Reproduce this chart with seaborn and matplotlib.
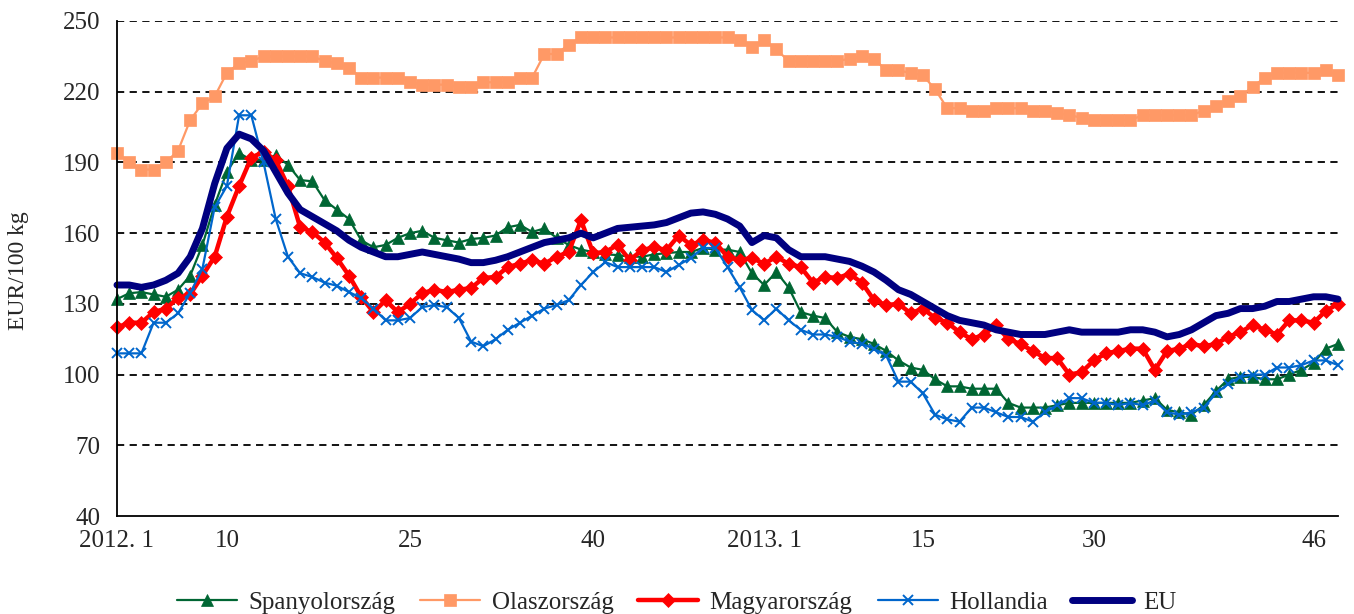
import matplotlib
matplotlib.use("Agg")
import pandas as pd
import matplotlib.pyplot as plt
import seaborn as sns

# weekly index 2012 week 1 .. 2013 week 48
weeks = list(range(101))
tick_pos = [0, 9, 24, 39, 53, 66, 80, 98]
tick_text = ["2012. 1", "10", "25", "40", "2013. 1", "15", "30", "46"]
y_ticks = [40, 70, 100, 130, 160, 190, 220, 250]

spanyol = [132, 134.5, 135, 134, 133, 136, 142, 155, 172, 186,
           194, 191, 191, 193, 189, 182.5, 182, 174, 170, 166,
           157, 154, 155, 158, 160, 161, 158, 157, 156, 157.5,
           158, 159, 162.5, 163.5, 160.5, 162, 158, 155, 153, 152,
           151, 150.7, 150, 150, 151, 151.5, 152, 152, 153.7, 153,
           153, 152, 143, 138, 143.5, 137, 126.5, 125, 124, 118,
           116, 115, 113, 110, 106, 103, 102, 98, 95, 95,
           94, 94, 94, 88, 86, 86, 86, 87, 88, 88,
           88, 88, 88, 88, 89, 90, 85, 84, 83, 87,
           93, 98, 99, 99, 98, 98, 100, 102, 105, 111, 113]

olasz = [194, 190, 187, 187, 190, 195, 208, 215, 218, 228,
         232, 233, 235, 235, 235, 235, 235, 233, 232, 230,
         226, 226, 226, 226, 224, 223, 223, 223, 222, 222,
         224, 224, 224, 226, 226, 236, 236, 240, 243, 243,
         243, 243, 243, 243, 243, 243, 243, 243, 243, 243,
         243, 242, 239, 242, 238, 233, 233, 233, 233, 233,
         234, 235, 234, 229, 229, 228, 227, 221, 213, 213,
         212, 212, 213, 213, 213, 212, 212, 211, 210, 209,
         208, 208, 208, 208, 210, 210, 210, 210, 210, 212,
         214, 216, 218, 222, 226, 228, 228, 228, 228, 229, 227]

magyar = [120, 122, 122, 126.5, 128, 132.5, 134, 142, 150, 167,
          180, 192, 194.5, 191, 180, 162.5, 160.5, 156, 149.5, 142,
          133, 126.5, 131.5, 126.5, 130, 134.5, 136, 135, 136, 136.7,
          141, 141.4, 145.6, 147, 148.6, 147, 150, 152, 165.6, 151.5,
          152, 155, 148.6, 152.8, 154, 152.8, 159, 155, 157, 156,
          150, 148.6, 149.5, 147, 150, 147, 145.6, 139, 141.4, 141,
          142.7, 139, 131.6, 129.5, 130, 126, 128, 124, 122, 118,
          115, 117, 121, 115, 113, 110, 107, 107, 100, 101,
          106, 109, 110, 111, 111, 102, 110, 111, 113, 112,
          113, 116, 118, 121, 119, 117, 123, 123, 122, 127, 130]

holland = [109, 109, 109, 122, 122, 126, 134.6, 145, 171, 180,
           210, 210, 190, 166, 150, 143, 141.4, 139, 137.7, 135,
           132.5, 128, 123, 123, 124, 128.6, 129.5, 128.6, 124, 114,
           112, 115, 119, 122, 125, 128, 129.5, 131.6, 138, 143.5,
           147.7, 145.6, 145.6, 145.6, 145.6, 143.5, 146.5, 149.5, 153.7, 153.7,
           145.6, 137, 127.4, 123, 128, 123, 119, 117, 117, 116,
           114, 113, 111, 108, 97, 97, 92, 83, 81, 80,
           86, 86, 84, 82, 82, 80, 84, 87, 90, 90,
           88, 88, 87, 88, 87, 89, 84, 83, 84, 86,
           92, 96, 99, 100, 100, 103, 103, 104, 106, 106, 104]

eu = [138, 138, 137, 138, 140, 143, 150, 162, 181, 196,
      202, 200, 195, 186, 177, 170, 167, 164, 161, 157,
      154, 152, 150, 150, 151, 152, 151, 150, 149, 147.5,
      147.5, 148.5, 150, 152, 154, 156, 157, 158, 160, 158,
      160, 162, 162.5, 163, 163.5, 164.5, 166.5, 168.5, 169, 168,
      166, 163, 156, 159, 158, 153, 150, 150, 150, 149,
      148, 146, 143.5, 140, 136, 134, 131, 128, 125, 123,
      122, 121, 119, 118, 117, 117, 117, 118, 119, 118,
      118, 118, 118, 119, 119, 118, 116, 117, 119, 122,
      125, 126, 128, 128, 129, 131, 131, 132, 133, 133, 132]

df = pd.DataFrame({"het": weeks, "Spanyolország": spanyol, "Olaszország": olasz,
                   "Magyarország": magyar, "Hollandia": holland, "EU": eu})

styles = {
    "Spanyolország": dict(color="#006633", marker="^", markersize=8.5, linewidth=1.6),
    "Olaszország": dict(color="#FF9966", marker="s", markersize=8, linewidth=1.6),
    "Magyarország": dict(color="#FF0000", marker="D", markersize=7.5, linewidth=3.2),
    "Hollandia": dict(color="#0066CC", marker="x", markersize=7.5, linewidth=1.6,
                      markeredgewidth=1.4),
    "EU": dict(color="#000080", linewidth=5),
}

sns.set_style("white")
plt.rcParams["font.family"] = ["Liberation Serif", "DejaVu Serif"]

fig = plt.figure(figsize=(13.54, 6.14), dpi=100)
ax = fig.add_axes([0.0864, 0.1596, 0.9018, 0.8062])

for name, st in styles.items():
    st = dict(st)
    if "marker" in st:
        st.setdefault("markeredgewidth", 0.5)
        st["markeredgecolor"] = st["color"]
    sns.lineplot(data=df, x="het", y=name, ax=ax, label=name, clip_on=False, **st)

ax.set_xlim(0, 100)
ax.set_ylim(40, 250)
ax.set_yticks(y_ticks)
ax.set_yticklabels([str(v) for v in y_ticks], fontsize=18)
labels = [""] * len(weeks)
for p, t in zip(tick_pos, tick_text):
    labels[p] = t
ax.set_xticks(weeks)
ax.set_xticklabels(labels, fontsize=18)
ax.tick_params(axis="x", direction="out", length=5, width=1.2, color="black", pad=5)
ax.tick_params(axis="y", direction="out", length=8, width=1.2, color="black", pad=4)
ax.set_xlabel("")
ax.set_ylabel("")

for v in y_ticks[1:]:
    ax.axhline(v, color="black", linestyle=(0, (4, 3)), linewidth=1.3, zorder=0)

for s in ["top", "right"]:
    ax.spines[s].set_visible(False)
for s in ["left", "bottom"]:
    ax.spines[s].set_color("black")
    ax.spines[s].set_linewidth(1.3)

fig.text(0.014, 0.56, "EUR/100 kg", rotation=90, fontsize=17, va="center", ha="center")

handles, names = ax.get_legend_handles_labels()
ax.get_legend().remove()
fig.legend(handles, names, loc="lower center", bbox_to_anchor=(0.5, -0.037), ncol=5,
           frameon=False, fontsize=18, handlelength=2.4, columnspacing=1.0,
           handletextpad=0.45)

fig.savefig("out.png", dpi=100)
